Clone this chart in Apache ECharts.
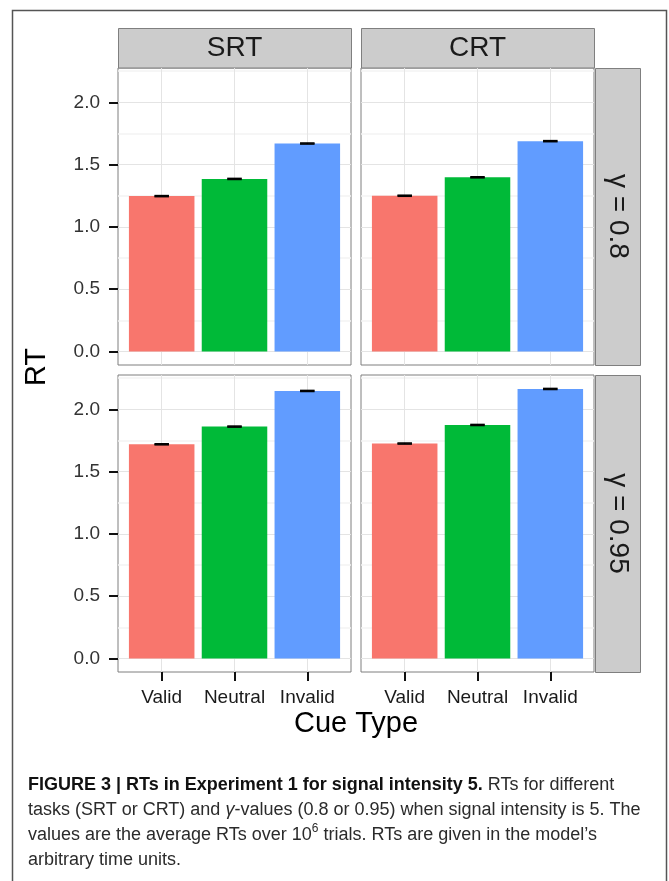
<!DOCTYPE html>
<html><head><meta charset="utf-8">
<script src="https://cdn.jsdelivr.net/npm/echarts@6/dist/echarts.min.js"></script>
<style>html,body{margin:0;padding:0;background:#fff}#c{width:669px;height:881px}</style>
</head><body><div id="c"></div>
<script>
// ---- data ----
const categories = ['Valid', 'Neutral', 'Invalid'];
const tasks = ['SRT', 'CRT'];
const gammas = ['γ = 0.8', 'γ = 0.95'];
const rtSRT_g08 = [1.247, 1.385, 1.669];
const rtCRT_g08 = [1.250, 1.398, 1.688];
const rtSRT_g095 = [1.719, 1.861, 2.147];
const rtCRT_g095 = [1.725, 1.874, 2.163];
const seSRT_g08 = [0.004, 0.004, 0.004];
const seCRT_g08 = [0.004, 0.004, 0.004];
const seSRT_g095 = [0.004, 0.004, 0.004];
const seCRT_g095 = [0.004, 0.004, 0.004];
const yTicks = [0, 0.5, 1.0, 1.5, 2.0];
const yMinorTicks = [0.25, 0.75, 1.25, 1.75, 2.25];
const yMin = -0.108, yMax = 2.275;
const xTitle = 'Cue Type';
const yTitle = 'RT';

// ---- layout / style ----
const FONT = "'Liberation Sans', Arial, Helvetica, sans-serif";
const barColors = ['#F8766D', '#00BA38', '#619CFF'];
const panelL = [118, 361], panelW = 233;
const panelT = [68, 375], panelH = 297;
const inset = panelW * 0.1 / 3.2;

const values = [[rtSRT_g08, rtCRT_g08], [rtSRT_g095, rtCRT_g095]];
const errs = [[seSRT_g08, seCRT_g08], [seSRT_g095, seCRT_g095]];

const grids = [], xAxes = [], yAxes = [], series = [];

for (let r = 0; r < 2; r++) {
  for (let c = 0; c < 2; c++) {
    // outer (full-panel) grid: background, border, horizontal gridlines, y axis
    const go = grids.length;
    grids.push({left: panelL[c], top: panelT[r], width: panelW, height: panelH,
      show: true, backgroundColor: '#fff', borderColor: '#7F7F7F', borderWidth: 1});
    xAxes.push({gridIndex: go, type: 'value', min: 0, max: 1, show: false});
    yAxes.push({gridIndex: go, type: 'value', min: yMin, max: yMax,
      axisLine: {show: false, onZero: false}, splitLine: {show: false},
      axisTick: {show: c === 0, customValues: yTicks, length: 9, lineStyle: {color: '#111', width: 2}},
      axisLabel: {show: c === 0, customValues: yTicks, formatter: v => v.toFixed(1),
        fontSize: 19, color: '#333', margin: 18, fontFamily: FONT}});
    series.push({type: 'line', xAxisIndex: go, yAxisIndex: go, data: [], silent: true,
      markLine: {silent: true, symbol: 'none', z: 1, animation: false, label: {show: false},
        data: yMinorTicks.map(v => ({yAxis: v, lineStyle: {color: '#F3F3F3', width: 1.5, type: 'solid'}}))
          .concat(yTicks.map(v => ({yAxis: v, lineStyle: {color: '#E4E4E4', width: 1, type: 'solid'}})))}});

    // inner grid: bars on category axis
    const gi = grids.length;
    grids.push({left: panelL[c] + inset, top: panelT[r], width: panelW - 2 * inset, height: panelH});
    xAxes.push({gridIndex: gi, type: 'category', data: categories, position: 'bottom',
      axisLine: {show: false, onZero: false}, splitLine: {show: false},
      axisTick: {show: r === 1, interval: 0, alignWithLabel: true, length: 9, lineStyle: {color: '#111', width: 2}},
      axisLabel: {show: r === 1, interval: 0, hideOverlap: false, fontSize: 19, color: '#1a1a1a', margin: 16, fontFamily: FONT}});
    yAxes.push({gridIndex: gi, type: 'value', min: yMin, max: yMax, show: false, splitLine: {show: false}});
    const vals = values[r][c], es = errs[r][c];
    series.push({type: 'bar', xAxisIndex: gi, yAxisIndex: gi, barWidth: '90%', z: 3,
      data: vals.map((v, i) => ({value: v, itemStyle: {color: barColors[i]}})),
      markLine: {silent: true, symbol: 'none', z: 1, animation: false, label: {show: false},
        data: categories.map(cat => ({xAxis: cat, lineStyle: {color: '#E4E4E4', width: 1, type: 'solid'}}))}});
    series.push({type: 'custom', xAxisIndex: gi, yAxisIndex: gi, z: 4,
      encode: {x: 0, y: [1, 2]},
      data: vals.map((v, i) => [i, v - es[i], v + es[i]]),
      renderItem: (params, api) => {
        const x = api.coord([api.value(0), 0])[0];
        const lo = api.coord([api.value(0), api.value(1)])[1];
        const hi = api.coord([api.value(0), api.value(2)])[1];
        const hw = api.size([1, 0])[0] * 0.1;
        const st = {stroke: '#000', lineWidth: 1.6, fill: null};
        return {type: 'group', children: [
          {type: 'line', shape: {x1: x - hw, y1: hi, x2: x + hw, y2: hi}, style: st},
          {type: 'line', shape: {x1: x - hw, y1: lo, x2: x + hw, y2: lo}, style: st},
          {type: 'line', shape: {x1: x, y1: hi, x2: x, y2: lo}, style: st}
        ]};
      }});
  }
}

const graphics = [];
// outer figure frame
graphics.push({type: 'rect', shape: {x: 12.5, y: 10.5, width: 654, height: 900},
  style: {fill: null, stroke: '#555', lineWidth: 1.5}, z: -10});
// top strips
for (let c = 0; c < 2; c++) {
  graphics.push({type: 'rect', shape: {x: panelL[c] + 0.5, y: 28.5, width: panelW, height: 39.5},
    style: {fill: '#CCCCCC', stroke: '#7F7F7F', lineWidth: 1}});
  graphics.push({type: 'text', x: panelL[c] + panelW / 2, y: 48.5,
    style: {text: tasks[c], fontSize: 28, fontFamily: FONT, fill: '#1a1a1a', align: 'center', verticalAlign: 'middle'}});
}
// right strips
for (let r = 0; r < 2; r++) {
  graphics.push({type: 'rect', shape: {x: 595.5, y: panelT[r] + 0.5, width: 45, height: panelH},
    style: {fill: '#CCCCCC', stroke: '#7F7F7F', lineWidth: 1}});
  graphics.push({type: 'text', x: 618, y: panelT[r] + panelH / 2, rotation: -Math.PI / 2,
    style: {text: gammas[r], fontSize: 28, fontFamily: FONT, fill: '#1a1a1a', align: 'center', verticalAlign: 'middle'}});
}
// axis titles
graphics.push({type: 'text', x: 37, y: 367, rotation: Math.PI / 2,
  style: {text: yTitle, fontSize: 29, fontFamily: FONT, fill: '#000', align: 'center', verticalAlign: 'middle'}});
graphics.push({type: 'text', x: 356, y: 724,
  style: {text: xTitle, fontSize: 29, fontFamily: FONT, fill: '#000', align: 'center', verticalAlign: 'middle'}});
// caption
const capBase = {fontSize: 18, fontFamily: FONT, lineHeight: 25, fill: '#2b2b2b'};
graphics.push({type: 'text', x: 28, y: 772.5,
  style: {
    text: '{b|FIGURE 3 | RTs in Experiment 1 for signal intensity 5.}{n| RTs for different}\n' +
          '{n|tasks (SRT or CRT) and }{i|γ}{n|-values (0.8 or 0.95) when signal intensity is 5. The}\n' +
          '{n|values are the average RTs over 10}{s|6}{n| trials. RTs are given in the model’s}\n' +
          '{n|arbitrary time units.}',
    align: 'left', verticalAlign: 'top',
    rich: {
      b: Object.assign({}, capBase, {fontWeight: 'bold', fill: '#111'}),
      n: Object.assign({}, capBase),
      i: Object.assign({}, capBase, {fontStyle: 'italic'}),
      s: {fontSize: 12, fontFamily: FONT, lineHeight: 14, verticalAlign: 'top', fill: '#2b2b2b'}
    }
  }});

const chart = echarts.init(document.getElementById('c'));
chart.setOption({
  animation: false,
  backgroundColor: '#fff',
  grid: grids, xAxis: xAxes, yAxis: yAxes, series: series,
  graphic: graphics
});
</script>
</body></html>
